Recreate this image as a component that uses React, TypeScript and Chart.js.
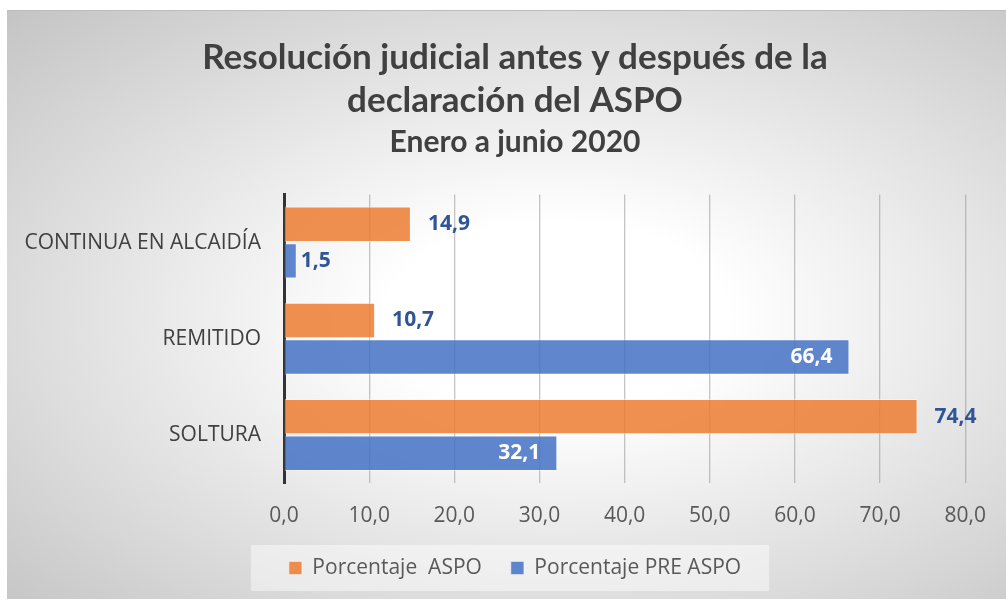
import React, { useEffect, useRef } from "react";
import { Chart, registerables } from "chart.js";

Chart.register(...registerables);

const categories = ["CONTINUA EN ALCAIDÍA", "REMITIDO", "SOLTURA"];
const seriesNames = ["Porcentaje  ASPO", "Porcentaje PRE ASPO"];
const aspoValues = [14.9, 10.7, 74.4];
const preAspoValues = [1.5, 66.4, 32.1];
const xTickLabels = ["0,0", "10,0", "20,0", "30,0", "40,0", "50,0", "60,0", "70,0", "80,0"];
const titleLines = ["Resolución judicial antes y después de la", "declaración del ASPO"];
const subtitleText = "Enero a junio 2020";

const fmt = (v: number) => v.toFixed(1).replace(".", ",");

const labelsPlugin = {
  id: "valueLabels",
  afterDatasetsDraw(chart: any) {
    const ctx = chart.ctx;
    ctx.save();
    ctx.font = "bold 21px 'Open Sans'";
    ctx.textBaseline = "middle";
    chart.data.datasets.forEach((ds: any, di: number) => {
      const meta = chart.getDatasetMeta(di);
      meta.data.forEach((el: any, i: number) => {
        const v = ds.data[i];
        const txt = fmt(v);
        const w = ctx.measureText(txt).width;
        if (di === 1 && el.x - el.base > w + 30) {
          ctx.fillStyle = "#ffffff";
          ctx.textAlign = "right";
          ctx.fillText(txt, el.x - 17, el.y);
        } else {
          ctx.fillStyle = "#2F5597";
          ctx.textAlign = "left";
          ctx.fillText(txt, el.x + (di === 1 ? 4 : 17), el.y);
        }
      });
    });
    ctx.restore();
  },
};

const legendBoxPlugin = {
  id: "legendBox",
  beforeDraw(chart: any) {
    const lg = chart.legend;
    if (!lg || !lg.legendHitBoxes || lg.legendHitBoxes.length < 2) return;
    const hb = lg.legendHitBoxes;
    const first = hb[0];
    const last = hb[hb.length - 1];
    const cy = first.top + first.height / 2;
    const ctx = chart.ctx;
    ctx.save();
    ctx.fillStyle = "rgba(255,255,255,0.45)";
    ctx.fillRect(first.left - 38, cy - 23, last.left + last.width + 28 - (first.left - 38), 46);
    ctx.restore();
  },
};

export default function App() {
  const ref = useRef<HTMLCanvasElement | null>(null);

  useEffect(() => {
    if (!ref.current) return;
    const chart = new Chart(ref.current, {
      type: "bar",
      data: {
        labels: categories,
        datasets: [
          {
            label: seriesNames[0],
            data: aspoValues,
            backgroundColor: "rgba(237,125,49,0.85)",
            borderColor: "rgba(255,255,255,0.45)",
            borderWidth: 1,
          },
          {
            label: seriesNames[1],
            data: preAspoValues,
            backgroundColor: "rgba(68,114,196,0.85)",
            borderColor: "rgba(255,255,255,0.45)",
            borderWidth: 1,
          },
        ],
      },
      plugins: [legendBoxPlugin, labelsPlugin],
      options: {
        indexAxis: "y",
        animation: false,
        responsive: false,
        maintainAspectRatio: false,
        datasets: { bar: { categoryPercentage: 0.76, barPercentage: 0.97 } },
        layout: { padding: { left: 56, right: 39, top: 0, bottom: 10.5 } },
        scales: {
          x: {
            min: 0,
            max: 80,
            ticks: {
              stepSize: 10,
              padding: 20,
              color: "#595959",
              font: { family: "'Open Sans'", size: 21 },
              callback: (_v: any, i: number) => xTickLabels[i],
            },
            grid: { color: "rgba(150,150,150,0.55)", lineWidth: 1.3, drawTicks: false },
            border: { display: false },
            afterFit: (s: any) => {
              s.height = 45.5;
            },
          },
          y: {
            ticks: {
              padding: 23,
              color: "#404040",
              font: { family: "'Open Sans'", size: 21 },
            },
            grid: { display: false, drawTicks: false },
            border: { display: true, color: "#333333", width: 3 },
            afterFit: (s: any) => {
              s.width = 221;
              s._computeLabelArea = () => undefined;
            },
          },
        },
        plugins: {
          title: {
            display: true,
            text: titleLines,
            color: "#404040",
            font: { family: "Lato", size: 35, weight: "bold", lineHeight: 1.24 },
            padding: { top: 25, bottom: 2 },
          },
          subtitle: {
            display: true,
            text: subtitleText,
            color: "#404040",
            font: { family: "Lato", size: 30, weight: "bold", lineHeight: 1.2 },
            padding: { top: 0, bottom: 33.7 },
          },
          legend: {
            position: "bottom",
            labels: {
              color: "#595959",
              font: { family: "'Open Sans'", size: 21 },
              boxWidth: 13,
              boxHeight: 13,
              padding: 29,
            },
          },
          tooltip: { enabled: false },
        },
      },
    });
    return () => chart.destroy();
  }, []);

  return (
    <div
      style={{
        position: "fixed",
        left: 7,
        top: 10,
        width: 999,
        height: 589,
        boxSizing: "border-box",
        borderTop: "1px solid #bdbdbd",
        background: "radial-gradient(ellipse at 55% 52%, #ffffff 22%, #c4c4c4 100%)",
      }}
    >
      <canvas ref={ref} width={999} height={588} style={{ display: "block" }} />
    </div>
  );
}
